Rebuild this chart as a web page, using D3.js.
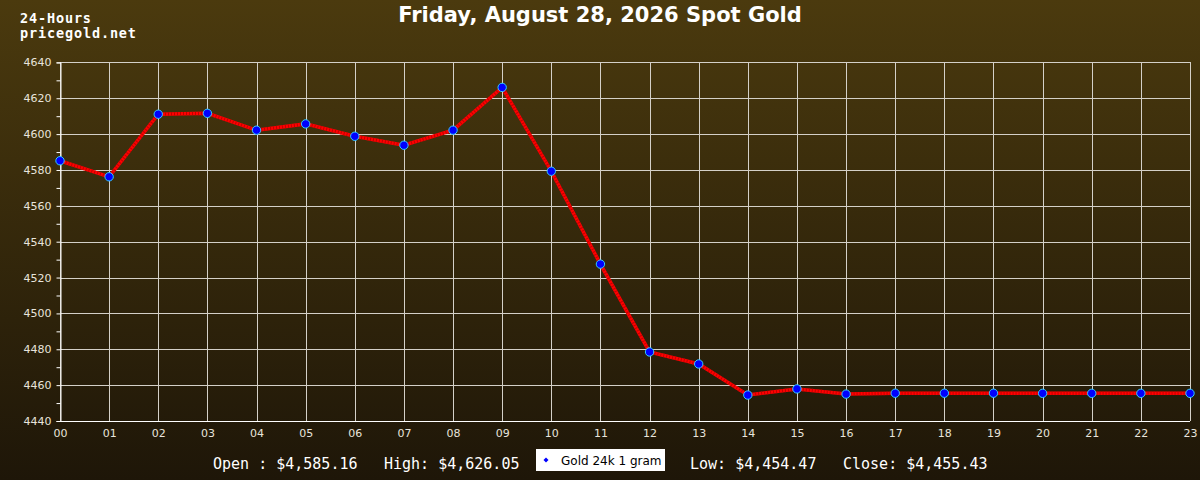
<!DOCTYPE html>
<html>
<head>
<meta charset="utf-8">
<script src="https://cdn.jsdelivr.net/npm/d3@7"></script>
<style>
  body { margin: 0; background: #1e1608; }
  svg { display: block; }
</style>
</head>
<body>
<div id="canvas"></div>
<script>
var w = 1200;
var h = 480;

// hourly spot gold values
var hours = ["00","01","02","03","04","05","06","07","08","09","10","11",
             "12","13","14","15","16","17","18","19","20","21","22","23"];
var prices = [4585.16, 4576.2, 4611.1, 4611.6, 4602.2, 4605.7, 4598.8, 4593.8,
              4602.2, 4626.05, 4579.3, 4527.5, 4478.5, 4471.8, 4454.47, 4457.9,
              4455.0, 4455.5, 4455.5, 4455.5, 4455.43, 4455.43, 4455.43, 4455.43];
var yTicks = [4440, 4460, 4480, 4500, 4520, 4540, 4560, 4580, 4600, 4620, 4640];
var yMinor = [4450, 4470, 4490, 4510, 4530, 4550, 4570, 4590, 4610, 4630];
var stats = [
  { label: "Open : $4,585.16", x: 213 },
  { label: "High: $4,626.05", x: 384 },
  { label: "Low: $4,454.47", x: 690 },
  { label: "Close: $4,455.43", x: 843 }
];
var seriesName = "Gold 24k 1 gram";

var canvas = d3.select("#canvas")
  .append("svg")
  .attr("width", w)
  .attr("height", h);

var defs = canvas.append("defs");
var grad = defs.append("linearGradient")
  .attr("id", "bg")
  .attr("x1", 0).attr("y1", 0).attr("x2", 0).attr("y2", 1);
grad.append("stop").attr("offset", "0%").attr("stop-color", "#4b3a0e");
grad.append("stop").attr("offset", "100%").attr("stop-color", "#1e1608");

canvas.append("rect")
  .attr("width", w).attr("height", h)
  .attr("fill", "url(#bg)");

var xScale = d3.scalePoint()
  .domain(hours)
  .range([60, 1190]);

var yScale = d3.scaleLinear()
  .domain([4440, 4640])
  .range([421, 62.4]);

// grid
canvas.append("g")
  .selectAll("line")
  .data(yTicks)
  .join("line")
  .attr("x1", 60).attr("x2", 1190)
  .attr("y1", d => Math.round(yScale(d)) + 0.5)
  .attr("y2", d => Math.round(yScale(d)) + 0.5)
  .attr("stroke", "#d4d0c8")
  .attr("stroke-width", 1);

canvas.append("g")
  .selectAll("line")
  .data(hours)
  .join("line")
  .attr("x1", d => Math.round(xScale(d)) + 0.5)
  .attr("x2", d => Math.round(xScale(d)) + 0.5)
  .attr("y1", 62).attr("y2", 421)
  .attr("stroke", "#d4d0c8")
  .attr("stroke-width", 1);

// y axis
var yAxis = d3.axisLeft(yScale)
  .tickValues(yTicks.concat(yMinor))
  .tickSize(4)
  .tickFormat(d => yTicks.indexOf(d) >= 0 ? d : "");

var gy = canvas.append("g")
  .attr("transform", "translate(60.5, 0)")
  .call(yAxis);
gy.select(".domain").attr("stroke", "#ffffff");
gy.selectAll(".tick line").attr("stroke", "#ffffff");
gy.selectAll("text")
  .attr("fill", "#e8e4dc")
  .attr("x", -9)
  .style("font-family", "DejaVu Sans")
  .style("font-size", "11px");

// x axis
var xAxis = d3.axisBottom(xScale).tickSize(0).tickPadding(8);
var gx = canvas.append("g")
  .attr("transform", "translate(0, 421.5)")
  .call(xAxis);
gx.select(".domain").attr("stroke", "#ffffff").attr("d", "M60,0H1190");
gx.selectAll("text")
  .attr("fill", "#e8e4dc")
  .style("font-family", "DejaVu Sans")
  .style("font-size", "11px");

// price line
var line = d3.line()
  .x((d, i) => xScale(hours[i]))
  .y(d => yScale(d));

canvas.append("path")
  .datum(prices)
  .attr("d", line)
  .attr("fill", "none")
  .attr("stroke", "#ff0000")
  .attr("stroke-width", 3.5);

canvas.append("path")
  .datum(prices)
  .attr("d", line)
  .attr("fill", "none")
  .attr("stroke", "#c00000")
  .attr("stroke-width", 3.5)
  .attr("stroke-dasharray", "1 2");

canvas.append("g")
  .selectAll("circle")
  .data(prices)
  .join("circle")
  .attr("cx", (d, i) => xScale(hours[i]))
  .attr("cy", d => yScale(d))
  .attr("r", 4.2)
  .attr("fill", "#0000ff")
  .attr("stroke", "#33ccff")
  .attr("stroke-width", 1);

// title and corner text
canvas.append("text")
  .attr("x", 600)
  .attr("y", 22)
  .attr("text-anchor", "middle")
  .attr("fill", "#ffffff")
  .style("font-family", "DejaVu Sans")
  .style("font-weight", "bold")
  .style("font-size", "21px")
  .text("Friday, August 28, 2026 Spot Gold");

canvas.append("text")
  .attr("x", 20).attr("y", 23)
  .attr("fill", "#ffffff")
  .attr("textLength", 71)
  .style("font-family", "DejaVu Sans Mono")
  .style("font-weight", "bold")
  .style("font-size", "13.5px")
  .text("24-Hours");

canvas.append("text")
  .attr("x", 20).attr("y", 38)
  .attr("fill", "#ffffff")
  .attr("textLength", 116)
  .style("font-family", "DejaVu Sans Mono")
  .style("font-weight", "bold")
  .style("font-size", "13.5px")
  .text("pricegold.net");

// footer stats
canvas.append("g")
  .selectAll("text")
  .data(stats)
  .join("text")
  .attr("x", d => d.x)
  .attr("y", 469)
  .attr("fill", "#ffffff")
  .style("font-family", "DejaVu Sans Mono")
  .style("font-size", "15px")
  .text(d => d.label);

// legend
var legend = canvas.append("g")
  .attr("transform", "translate(536, 449)");
legend.append("rect")
  .attr("width", 129).attr("height", 22)
  .attr("fill", "#ffffff");
legend.append("path")
  .attr("d", "M10,8.5L12.5,11L10,13.5L7.5,11Z")
  .attr("fill", "#0000ff");
legend.append("text")
  .attr("x", 25).attr("y", 15.5)
  .attr("fill", "#000000")
  .style("font-family", "DejaVu Sans")
  .style("font-size", "12px")
  .text(seriesName);
</script>
</body>
</html>
